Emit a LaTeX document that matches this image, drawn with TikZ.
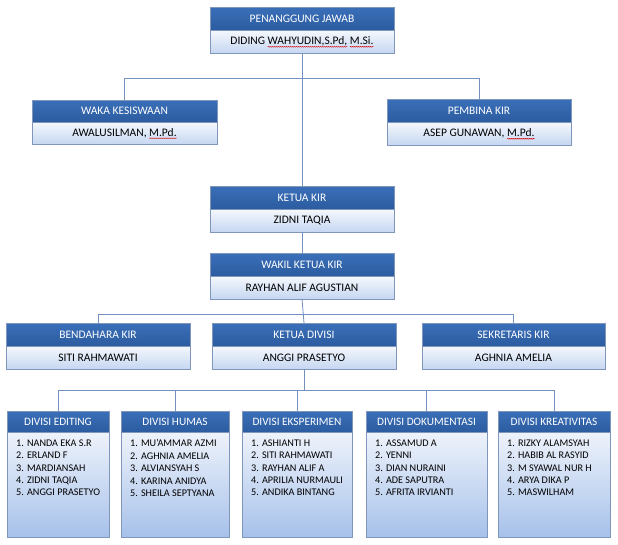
\documentclass[tikz,border=0pt]{standalone}
\usepackage{fontspec}
\setmainfont{Carlito}
\usetikzlibrary{shadows,decorations.pathmorphing}
\newsavebox{\sqbox}
\newcommand{\sq}[1]{\sbox{\sqbox}{#1}\leavevmode\rlap{\tikz[overlay,x=1pt,y=1pt]{\draw[red!85!black,line width=0.45pt,decorate,decoration={snake,amplitude=0.45pt,segment length=2pt}] (0pt,-2pt) -- (\wd\sqbox,-2pt);}}\usebox{\sqbox}}
\definecolor{hdtop}{HTML}{3A6FB8}
\definecolor{hdbot}{HTML}{2C5CA0}
\definecolor{bdtop}{HTML}{F5F8FD}
\definecolor{bdbot}{HTML}{C6D7F1}
\definecolor{dvtop}{HTML}{EEF3FB}
\definecolor{dvbot}{HTML}{A7C1EA}
\definecolor{edge}{HTML}{8097BB}
\definecolor{conn}{HTML}{7391C0}
\tikzset{
  base/.style={draw=edge,line width=0.5pt,inner sep=0pt,outer sep=0pt,font=\fontsize{11.5}{13}\selectfont,
    drop shadow={shadow xshift=1.2pt,shadow yshift=-1.2pt,opacity=0.25}},
  hdr/.style={base,top color=hdtop,bottom color=hdbot,text=white,minimum height=23pt},
  bdy/.style={base,top color=bdtop,bottom color=bdbot,text=black,minimum height=23pt},
  dhdr/.style={hdr,minimum height=21pt,font=\fontsize{11.3}{13}\selectfont},
  dbdy/.style={base,top color=dvtop,bottom color=dvbot,minimum height=105pt},
  lst/.style={inner sep=0pt,anchor=north west,align=left,font=\fontsize{10.2}{12.4}\selectfont,text=black},
  cn/.style={draw=conn,line width=0.8pt}
}
\begin{document}
\begin{tikzpicture}[x=1pt,y=-1pt]
\useasboundingbox (0,0) rectangle (618,544);
% row 1
\node[hdr,minimum width=184pt,anchor=north west] (pjh) at (210,7) {PENANGGUNG JAWAB};
\node[bdy,minimum width=184pt,anchor=north] (pjb) at (pjh.south) {DIDING \sq{WAHYUDIN,S.Pd,} \sq{M.Si.}};
% row 2
\node[hdr,minimum width=185pt,minimum height=22pt,anchor=north west] (wkh) at (32,100) {WAKA KESISWAAN};
\node[bdy,minimum width=185pt,minimum height=22pt,anchor=north] (wkb) at (wkh.south) {AWALUSILMAN, \sq{M.Pd.}};
\node[hdr,minimum width=184pt,anchor=north west] (pbh) at (387,99) {PEMBINA KIR};
\node[bdy,minimum width=184pt,anchor=north] (pbb) at (pbh.south) {ASEP GUNAWAN, \sq{M.Pd.}};
% row 3
\node[hdr,minimum width=184pt,anchor=north west] (kkh) at (210,186) {KETUA KIR};
\node[bdy,minimum width=184pt,anchor=north] (kkb) at (kkh.south) {ZIDNI TAQIA};
% row 4
\node[hdr,minimum width=184pt,anchor=north west] (wah) at (210,253) {WAKIL KETUA KIR};
\node[bdy,minimum width=184pt,anchor=north] (wab) at (wah.south) {RAYHAN ALIF AGUSTIAN};
% row 5
\node[hdr,minimum width=184pt,anchor=north west] (bnh) at (6,323) {BENDAHARA KIR};
\node[bdy,minimum width=184pt,anchor=north] (bnb) at (bnh.south) {SITI RAHMAWATI};
\node[hdr,minimum width=184pt,anchor=north west] (kdh) at (212,323) {KETUA DIVISI};
\node[bdy,minimum width=184pt,anchor=north] (kdb) at (kdh.south) {ANGGI PRASETYO};
\node[hdr,minimum width=183pt,anchor=north west] (skh) at (422,323) {SEKRETARIS KIR};
\node[bdy,minimum width=183pt,anchor=north] (skb) at (skh.south) {AGHNIA AMELIA};
% divisions
\node[dhdr,minimum width=102pt,anchor=north west] (d1h) at (7,411) {DIVISI EDITING};
\node[dbdy,minimum width=102pt,anchor=north] (d1b) at (d1h.south) {};
\node[lst] (d1l) at ([xshift=9pt,yshift=-7.5pt]d1b.north west) {1. NANDA EKA S.R\\2. ERLAND F\\3. MARDIANSAH\\4. ZIDNI TAQIA\\5. ANGGI PRASETYO};
\node[dhdr,minimum width=108pt,anchor=north west] (d2h) at (121,411) {DIVISI HUMAS};
\node[dbdy,minimum width=108pt,anchor=north] (d2b) at (d2h.south) {};
\node[lst] (d2l) at ([xshift=9pt,yshift=-7.5pt]d2b.north west) {1. MU'AMMAR AZMI\\2. AGHNIA AMELIA\\3. ALVIANSYAH S\\4. KARINA ANIDYA\\5. SHEILA SEPTYANA};
\node[dhdr,minimum width=110pt,anchor=north west] (d3h) at (242,411) {DIVISI EKSPERIMEN};
\node[dbdy,minimum width=110pt,anchor=north] (d3b) at (d3h.south) {};
\node[lst] (d3l) at ([xshift=9pt,yshift=-7.5pt]d3b.north west) {1. ASHIANTI H\\2. SITI RAHMAWATI\\3. RAYHAN ALIF A\\4. APRILIA NURMAULI\\5. ANDIKA BINTANG};
\node[dhdr,minimum width=121pt,anchor=north west] (d4h) at (366,411) {DIVISI DOKUMENTASI};
\node[dbdy,minimum width=121pt,anchor=north] (d4b) at (d4h.south) {};
\node[lst] (d4l) at ([xshift=9pt,yshift=-7.5pt]d4b.north west) {1. ASSAMUD A\\2. YENNI\\3. DIAN NURAINI\\4. ADE SAPUTRA\\5. AFRITA IRVIANTI};
\node[dhdr,minimum width=112pt,anchor=north west] (d5h) at (498,411) {DIVISI KREATIVITAS};
\node[dbdy,minimum width=112pt,anchor=north] (d5b) at (d5h.south) {};
\node[lst] (d5l) at ([xshift=9pt,yshift=-7.5pt]d5b.north west) {1. RIZKY ALAMSYAH\\2. HABIB AL RASYID\\3. M SYAWAL NUR H\\4. ARYA DIKA P\\5. MASWILHAM};
% connectors
\coordinate (j1) at (pjb.south |- 0,78);
\draw[cn] (pjb.south) -- (j1);
\draw[cn] (wkh.north) -- (wkh.north |- j1) -- (pbh.north |- j1) -- (pbh.north);
\draw[cn] (j1) -- (kkh.north);
\draw[cn] (kkb.south) -- (wah.north);
\coordinate (j2) at (wab.south |- 0,314);
\draw[cn] (wab.south) -- (kdh.north);
\draw[cn] (bnh.north) -- (bnh.north |- j2) -- (skh.north |- j2) -- (skh.north);
\coordinate (j3) at (kdb.south |- 0,390);
\draw[cn] (kdb.south) -- (j3);
\draw[cn] (d1h.north) -- (d1h.north |- j3) -- (d5h.north |- j3) -- (d5h.north);
\draw[cn] (d2h.north) -- (d2h.north |- j3);
\draw[cn] (d3h.north) -- (d3h.north |- j3);
\draw[cn] (d4h.north) -- (d4h.north |- j3);
\end{tikzpicture}
\end{document}
